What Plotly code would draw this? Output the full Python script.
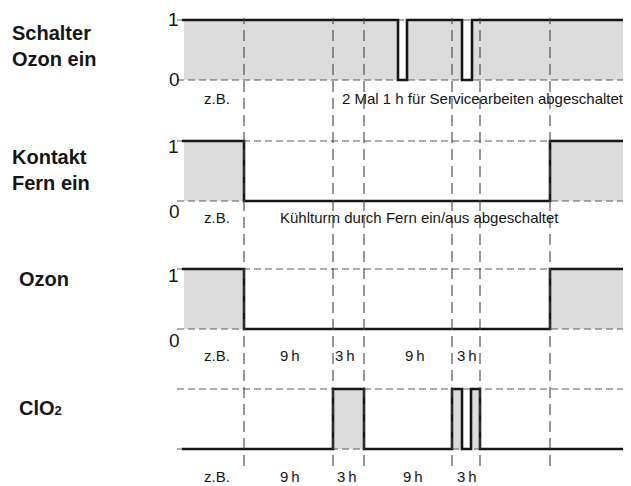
import plotly.graph_objects as go

# ---------------- data (time in hours) ----------------
t_end = 44.7
schalter_t = [0, 21.4, 22.3, 27.8, 28.8, t_end]
schalter_v = [1, 0, 1, 0, 1, 1]
kontakt_t = [0, 6, 36.6, t_end]
kontakt_v = [1, 0, 1, 1]
ozon_t = [0, 6, 36.6, t_end]
ozon_v = [1, 0, 1, 1]
clo2_t = [0, 14.9, 18, 26.8, 27.8, 28.7, 29.6, t_end]
clo2_v = [0, 1, 0, 1, 0, 1, 0, 0]
marker_times = [6, 14.9, 18, 26.8, 29.6, 36.6]

panel_titles = [["Schalter", "Ozon ein"], ["Kontakt", "Fern ein"], ["Ozon"],
                ["ClO<span style='font-size:13px'>2</span>"]]
panel_notes = [
    [("z.B.", 3.3, "center"), ("2 Mal 1 h für Servicearbeiten abgeschaltet", 15.6, "left")],
    [("z.B.", 3.3, "center"), ("Kühlturm durch Fern ein/aus abgeschaltet", 9.4, "left")],
    [("z.B.", 3.3, "center"), ("9\u2009h", 10.6, "center"), ("3\u2009h", 16.1, "center"),
     ("9\u2009h", 23.1, "center"), ("3\u2009h", 28.3, "center")],
    [("z.B.", 3.3, "center"), ("9\u2009h", 10.6, "center"), ("3\u2009h", 16.3, "center"),
     ("9\u2009h", 22.9, "center"), ("3\u2009h", 28.3, "center")],
]

series = [(schalter_t, schalter_v), (kontakt_t, kontakt_v), (ozon_t, ozon_v), (clo2_t, clo2_v)]

# ---------------- layout helpers (page pixels) ----------------
OFF = 8                      # default page body margin
W, H = 631 - OFF, 486 - OFF
level1_px = [20, 141, 269, 389]      # page pixel row of value 1 in each panel
unit_px = 60
pad = 10
title_px = [[33, 59], [157, 183], [279], [408]]
note_px = [98, 217, 355, 476]
tick_shift = [(0, 0), (-6, -11), (-6, -11), None]
show_levels = [True, True, True, False]

INK = "#161616"
DASH = "#5a5a5a"
FILL = "#dcdcdc"
FONT = "Liberation Sans, Arial, sans-serif"

def pfrac(px):
    return min(1.0, max(0.0, 1 - (px - OFF) / H))

def xfrac(px):
    return (px - OFF) / W

fig = go.Figure()
layout = dict(
    width=W, height=H, margin=dict(l=0, r=0, t=0, b=0),
    paper_bgcolor="white", plot_bgcolor="white", showlegend=False,
    xaxis=dict(range=[-17.6, 44.7], visible=False, showgrid=False, zeroline=False),
)

annotations = []
for i, (ts, vs) in enumerate(series):
    ax = "y" if i == 0 else f"y{i+1}"
    key = "yaxis" if i == 0 else f"yaxis{i+1}"
    top = level1_px[i] - pad
    bot = level1_px[i] + unit_px + pad
    layout[key] = dict(domain=[pfrac(bot), pfrac(top)],
                       range=[-pad / unit_px, 1 + pad / unit_px], anchor="x",
                       visible=False, showgrid=False, zeroline=False)
    # gray fill
    fig.add_trace(go.Scatter(x=ts, y=vs, yaxis=ax, mode="lines", line_shape="hv",
                             fill="tozeroy", fillcolor=FILL, line=dict(width=0),
                             hoverinfo="skip"))
    # dashed level lines
    for lv in (0, 1):
        fig.add_trace(go.Scatter(x=[-0.7, 44.4], y=[lv, lv], yaxis=ax, mode="lines",
                                 line=dict(color=DASH, width=1.2, dash="7px,4px"),
                                 hoverinfo="skip"))
    # step signal
    fig.add_trace(go.Scatter(x=[-0.2] + ts[1:], y=vs, yaxis=ax, mode="lines", line_shape="hv",
                             line=dict(color=INK, width=2.6), hoverinfo="skip"))
    # level labels
    if show_levels[i]:
        s1, s0 = tick_shift[i]
        annotations.append(dict(x=-1.1, y=1, xref="x", yref=ax, text="1", showarrow=False,
                                yshift=s1, font=dict(family=FONT, size=19, color=INK)))
        annotations.append(dict(x=-1.0, y=0, xref="x", yref=ax, text="0", showarrow=False,
                                yshift=s0, font=dict(family=FONT, size=19, color=INK)))
    # panel titles
    for txt, py in zip(panel_titles[i], title_px[i]):
        xl = 10 if i < 2 else 17
        annotations.append(dict(x=xfrac(xl), y=pfrac(py), xref="paper", yref="paper",
                                text=f"<b>{txt}</b>", showarrow=False, xanchor="left",
                                yanchor="middle", font=dict(family=FONT, size=20, color=INK)))
    # notes under the panel
    for txt, tx, anc in panel_notes[i]:
        annotations.append(dict(x=tx, y=pfrac(note_px[i]), xref="x", yref="paper", text=txt,
                                showarrow=False, xanchor=anc, yanchor="middle",
                                font=dict(family=FONT, size=15, color=INK)))

shapes = []
for tm in marker_times:
    shapes.append(dict(type="line", xref="x", yref="paper", x0=tm, x1=tm,
                       y0=pfrac(466), y1=pfrac(18), layer="above",
                       line=dict(color="#444444", width=1.1, dash="11px,6px")))

layout["annotations"] = annotations
layout["shapes"] = shapes
fig.update_layout(**layout)
fig.write_html("out.html")
